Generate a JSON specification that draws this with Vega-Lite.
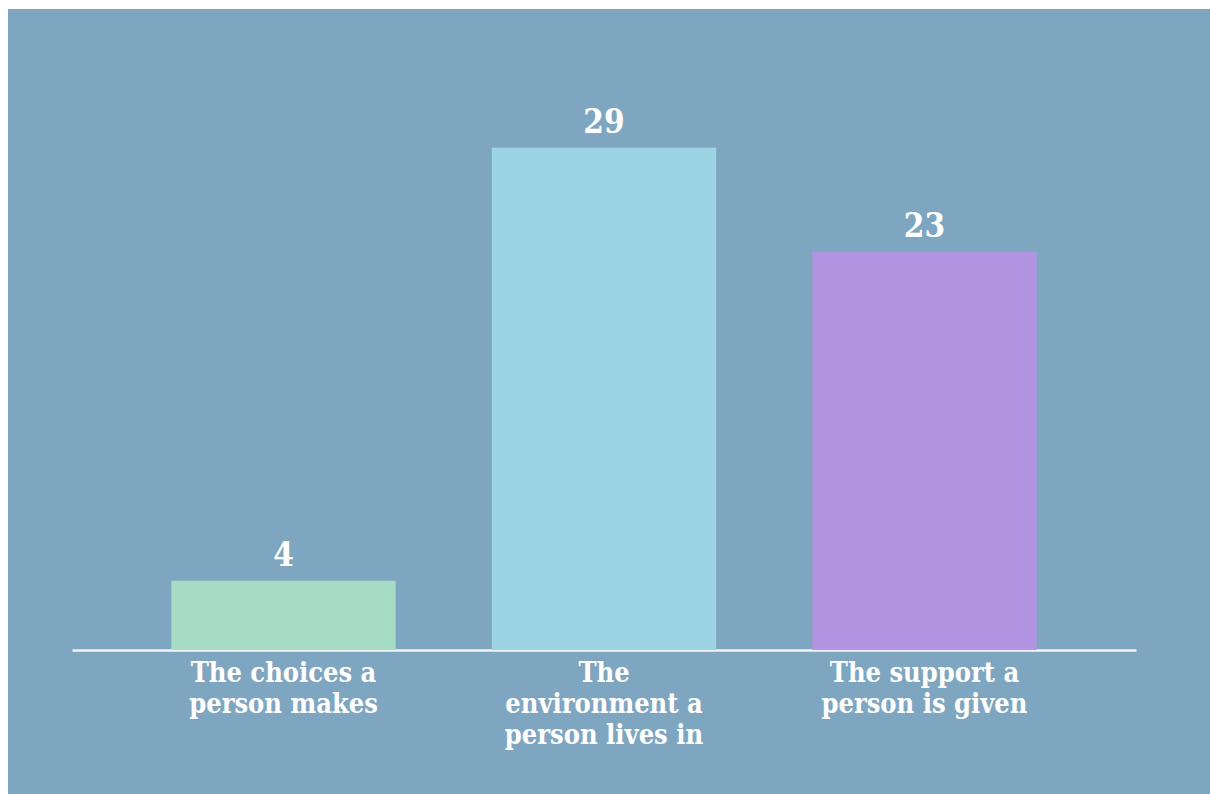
{
  "$schema": "https://vega.github.io/schema/vega-lite/v6.json",
  "width": 1202,
  "height": 785,
  "autosize": {"type": "none"},
  "padding": {"left": 8, "top": 9, "right": 0, "bottom": 0},
  "background": "white",
  "config": {"view": {"fill": "#7fa6c0", "stroke": null}},
  "data": {
    "values": [
      {"category": "The choices a person makes", "value": 4},
      {"category": "The environment a person lives in", "value": 29},
      {"category": "The support a person is given", "value": 23}
    ]
  },
  "encoding": {
    "x": {
      "field": "category",
      "type": "nominal",
      "sort": null,
      "scale": {"range": [64, 1128], "paddingInner": 0.3, "paddingOuter": 0.31},
      "axis": {
        "title": null,
        "orient": "bottom",
        "offset": -144,
        "ticks": false,
        "tickSize": 0,
        "labelAngle": 0,
        "labelLimit": 0,
        "labelPadding": 10,
        "labelColor": "white",
        "labelFont": "DejaVu Serif Condensed, DejaVu Serif",
        "labelFontWeight": "bold",
        "labelFontSize": 27,
        "labelLineHeight": 31,
        "domainColor": "#f2f5f8",
        "domainWidth": 2.5,
        "labelExpr": "datum.label == 'The choices a person makes' ? ['The choices a', 'person makes'] : datum.label == 'The environment a person lives in' ? ['The', 'environment a', 'person lives in'] : ['The support a', 'person is given']"
      }
    },
    "y": {
      "field": "value",
      "type": "quantitative",
      "scale": {"domain": [-8.31, 37.01], "nice": false, "zero": false},
      "axis": null
    }
  },
  "layer": [
    {
      "mark": {"type": "bar"},
      "encoding": {
        "y2": {"datum": 0},
        "color": {
          "field": "category",
          "type": "nominal",
          "sort": null,
          "scale": {
            "domain": ["The choices a person makes", "The environment a person lives in", "The support a person is given"],
            "range": ["#a6dcc3", "#9dd4e4", "#b394e3"]
          },
          "legend": null
        }
      }
    },
    {
      "mark": {
        "type": "text",
        "dy": -15,
        "baseline": "alphabetic",
        "font": "DejaVu Serif Condensed, DejaVu Serif",
        "fontSize": 33,
        "fontWeight": "bold",
        "color": "white"
      },
      "encoding": {"text": {"field": "value", "type": "quantitative"}}
    }
  ]
}
